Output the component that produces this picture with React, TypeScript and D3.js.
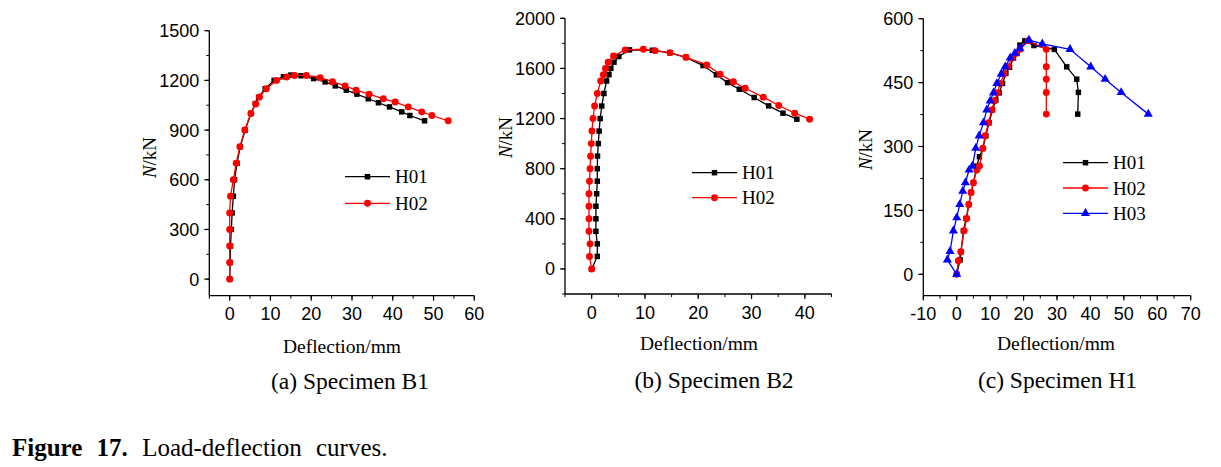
import React from "react";
import * as d3 from "d3";

// ---------- DATA ----------
const b1H01: [number, number][] = [
  [0, 0], [0.1, 100], [0.2, 200], [0.4, 300], [0.6, 400], [0.9, 500], [1.2, 600], [1.8, 700],
  [2.6, 800], [3.8, 900], [5.2, 1000], [6.3, 1060], [7.1, 1097], [8.7, 1150], [10.9, 1200],
  [13.2, 1222], [15, 1232], [17.5, 1228], [20.6, 1211], [23.4, 1191], [25.9, 1167], [28.6, 1141],
  [31.2, 1117], [34, 1089], [36.5, 1065], [39.2, 1040], [42.2, 1010], [44.2, 988], [47.8, 956],
];
const b1H02: [number, number][] = [
  [0, 0], [0, 100], [0, 200], [0, 300], [0, 400], [0.2, 500], [0.9, 600], [1.6, 700], [2.5, 800],
  [3.7, 900], [5.2, 1000], [6.4, 1058], [7.3, 1100], [9.0, 1150], [11.5, 1200], [14.0, 1220],
  [15.9, 1230], [18.8, 1230], [22.2, 1216], [25.2, 1192], [28.3, 1167], [31, 1141], [34.2, 1117],
  [37.7, 1089], [40.6, 1069], [43.8, 1040], [47.1, 1010], [49.6, 988], [53.6, 956],
];
const b2H01: [number, number][] = [
  [0, 0], [1.06, 100], [1.06, 200], [0.8, 300], [0.8, 400], [0.8, 500], [0.94, 600], [1.06, 700],
  [1.06, 800], [1.1, 900], [1.25, 1000], [1.4, 1100], [1.6, 1200], [1.9, 1300], [2.3, 1400],
  [2.8, 1500], [3.25, 1550], [3.6, 1600], [4.2, 1650], [5.1, 1695], [7.1, 1748], [11.4, 1745],
  [14.7, 1725], [17.7, 1688], [20.9, 1623], [23.4, 1549], [25.5, 1487], [27.7, 1434], [30.5, 1368],
  [33.2, 1301], [35.9, 1243], [38.5, 1195],
];
const b2H02: [number, number][] = [
  [0, 0], [-0.4, 100], [-0.3, 200], [-0.5, 300], [-0.5, 400], [-0.5, 500], [-0.5, 600], [-0.4, 700],
  [-0.3, 800], [-0.2, 900], [-0.06, 1000], [0.06, 1100], [0.25, 1200], [0.56, 1300], [1.06, 1400],
  [1.7, 1500], [2.2, 1550], [2.6, 1600], [3.1, 1650], [4.1, 1700], [6.3, 1748], [9.7, 1753],
  [11.9, 1742], [14.7, 1726], [17.7, 1689], [21.6, 1628], [24.1, 1554], [26.6, 1493], [28.8, 1442],
  [32.2, 1371], [35.1, 1304], [38.1, 1243], [40.9, 1195],
];
const h1H01: [number, number][] = [
  [0, 0], [1, 34], [1.3, 53], [2, 102], [2.8, 131], [3.6, 164], [4.3, 192], [5, 215], [6, 254],
  [6.8, 276], [7.8, 295], [8.7, 325], [9.7, 356], [10.7, 386], [11.7, 409], [12.7, 426], [13.7, 448],
  [14.7, 472], [15.8, 486], [17, 508], [18, 519], [18.9, 538], [20.4, 548], [23.1, 537], [29.2, 528],
  [32.9, 487], [35.9, 458], [36.4, 427], [36.2, 376],
];
const h1H02: [number, number][] = [
  [0, 0], [0.5, 32], [1.2, 53], [2.2, 102], [3, 131], [3.6, 164], [4.3, 192], [5, 215], [6, 245],
  [6.8, 254], [7.8, 296], [8.5, 325], [9.5, 356], [10.5, 386], [11.3, 407], [12.2, 426], [13, 448],
  [14.2, 470], [15.3, 487], [16.5, 507], [17.9, 519], [18.9, 528], [21.4, 548], [26.8, 528],
  [26.8, 487], [26.8, 458], [26.8, 427], [26.8, 376],
];
const h1H03: [number, number][] = [
  [0, 0], [-2.8, 34], [-2, 54], [-1, 102], [0, 133], [0.9, 164], [1.8, 195], [2.6, 215], [3.7, 245],
  [4.7, 254], [5.7, 296], [6.7, 325], [8, 356], [9, 386], [10, 407], [11, 426], [12, 448],
  [13.3, 470], [14.5, 487], [16, 508], [17.4, 519], [18.9, 530], [21.6, 550], [25.6, 541],
  [33.9, 528], [40.1, 487], [44.4, 458], [49.2, 427], [57.3, 376],
];

const xTicksA = [0, 10, 20, 30, 40, 50, 60];
const yTicksA = [0, 300, 600, 900, 1200, 1500];
const xTicksB = [0, 10, 20, 30, 40];
const yTicksB = [0, 400, 800, 1200, 1600, 2000];
const xTicksC = [-10, 0, 10, 20, 30, 40, 50, 60, 70];
const yTicksC = [0, 150, 300, 450, 600];

const captions = ["(a) Specimen B1", "(b) Specimen B2", "(c) Specimen H1"];
const xTitle = "Deflection/mm";

type Series = { name: string; data: [number, number][]; color: string; symbol: d3.SymbolType; size: number };

const panels = [
  {
    xDomain: [-5, 60], yDomain: [-100, 1500], xTicks: xTicksA, yTicks: yTicksA, xMinor: 5, yMinor: 150,
    left: 209.3, right: 474.3, top: 30.7, bottom: 295.7,
    yLabel: [149, 157.5], xLabel: [342, 352.5], caption: [350, 389], legend: [345, 176.7, 26.6],
    series: [
      { name: "H01", data: b1H01, color: "#000000", symbol: d3.symbolSquare, size: 30 },
      { name: "H02", data: b1H02, color: "#ff0000", symbol: d3.symbolCircle, size: 38 },
    ] as Series[],
    captionText: captions[0],
  },
  {
    xDomain: [-5, 45], yDomain: [-200, 2000], xTicks: xTicksB, yTicks: yTicksB, xMinor: 5, yMinor: 200,
    left: 565, right: 831.5, top: 18.3, bottom: 294,
    yLabel: [505.5, 137.5], xLabel: [699, 350], caption: [714, 388], legend: [692, 172.7, 25],
    series: [
      { name: "H01", data: b2H01, color: "#000000", symbol: d3.symbolSquare, size: 30 },
      { name: "H02", data: b2H02, color: "#ff0000", symbol: d3.symbolCircle, size: 38 },
    ] as Series[],
    captionText: captions[1],
  },
  {
    xDomain: [-10, 70], yDomain: [-50, 600], xTicks: xTicksC, yTicks: yTicksC, xMinor: 5, yMinor: 75,
    left: 923.3, right: 1190.7, top: 18.7, bottom: 295.6,
    yLabel: [865.5, 149.5], xLabel: [1056, 350], caption: [1057.5, 388], legend: [1063, 162.7, 25.3],
    series: [
      { name: "H01", data: h1H01, color: "#000000", symbol: d3.symbolSquare, size: 30 },
      { name: "H02", data: h1H02, color: "#ff0000", symbol: d3.symbolCircle, size: 38 },
      { name: "H03", data: h1H03, color: "#0000ff", symbol: d3.symbolTriangle, size: 36 },
    ] as Series[],
    captionText: captions[2],
  },
];

const SANS = "'Liberation Sans', Arial, sans-serif";
const SERIF = "'Liberation Serif', 'Times New Roman', serif";

function Panel({ p }: { p: (typeof panels)[number] }) {
  const x = d3.scaleLinear().domain(p.xDomain).range([p.left, p.right]);
  const y = d3.scaleLinear().domain(p.yDomain).range([p.bottom, p.top]);
  const line = d3.line<[number, number]>().x((d) => x(d[0])).y((d) => y(d[1]));
  const xMinorTicks = d3.range(p.xDomain[0], p.xDomain[1] + 0.001, p.xMinor);
  const yMinorTicks = d3.range(Math.ceil(p.yDomain[0] / p.yMinor) * p.yMinor, p.yDomain[1] + 0.001, p.yMinor);
  const [lx, ly, lgap] = p.legend;
  return (
    <g>
      {/* axes */}
      <line x1={p.left} x2={p.left} y1={p.top} y2={p.bottom} stroke="#000" strokeWidth={1.3} />
      <line x1={p.left} x2={p.right} y1={p.bottom} y2={p.bottom} stroke="#000" strokeWidth={1.3} />
      {xMinorTicks.map((t, i) => (
        <line key={"xm" + i} x1={x(t)} x2={x(t)} y1={p.bottom} y2={p.bottom + 3} stroke="#000" strokeWidth={1} />
      ))}
      {p.xTicks.map((t) => (
        <g key={"xt" + t}>
          <line x1={x(t)} x2={x(t)} y1={p.bottom} y2={p.bottom + 5} stroke="#000" strokeWidth={1.2} />
          <text x={x(t)} y={p.bottom + 24.5} textAnchor="middle" fontFamily={SANS} fontSize={18}>{t}</text>
        </g>
      ))}
      {yMinorTicks.map((t, i) => (
        <line key={"ym" + i} x1={p.left - 3} x2={p.left} y1={y(t)} y2={y(t)} stroke="#000" strokeWidth={1} />
      ))}
      {p.yTicks.map((t) => (
        <g key={"yt" + t}>
          <line x1={p.left - 5} x2={p.left} y1={y(t)} y2={y(t)} stroke="#000" strokeWidth={1.2} />
          <text x={p.left - 10} y={y(t)} dy="0.36em" textAnchor="end" fontFamily={SANS} fontSize={18}>{t}</text>
        </g>
      ))}
      {/* series */}
      {p.series.map((s) => (
        <g key={s.name}>
          <path d={line(s.data) || ""} fill="none" stroke={s.color} strokeWidth={1.3} />
          {s.data.map((d, i) => (
            <path key={i} transform={`translate(${x(d[0])},${y(d[1])})`} d={d3.symbol(s.symbol, s.size)() || ""} fill={s.color} />
          ))}
        </g>
      ))}
      {/* legend */}
      {p.series.map((s, i) => (
        <g key={"lg" + s.name} transform={`translate(0,${ly + i * lgap})`}>
          <line x1={lx} x2={lx + 45} y1={0} y2={0} stroke={s.color} strokeWidth={1.3} />
          <path transform={`translate(${lx + 22.5},0)`} d={d3.symbol(s.symbol, s.size)() || ""} fill={s.color} />
          <text x={lx + 50} y={0} dy="0.35em" fontFamily={SERIF} fontSize={19}>{s.name}</text>
        </g>
      ))}
      {/* labels */}
      <text transform={`translate(${p.yLabel[0]},${p.yLabel[1]}) rotate(-90)`} textAnchor="middle" dy="0.35em" fontFamily={SERIF} fontSize={19}>
        <tspan fontStyle="italic">N</tspan>/kN
      </text>
      <text x={p.xLabel[0]} y={p.xLabel[1]} textAnchor="middle" fontFamily={SERIF} fontSize={19.5}>{xTitle}</text>
      <text x={p.caption[0]} y={p.caption[1]} textAnchor="middle" fontFamily={SERIF} fontSize={23.5}>{p.captionText}</text>
    </g>
  );
}

export default function App() {
  return (
    <svg width={1221} height={467} style={{ position: "absolute", left: 0, top: 0, background: "#fff" }}>
      <rect width={1221} height={467} fill="#fff" />
      {panels.map((p, i) => (
        <Panel key={i} p={p} />
      ))}
      <text x={12} y={456} fontFamily={SERIF} fontSize={25} wordSpacing={8}>
        <tspan fontWeight="bold">Figure 17.</tspan> Load-deflection curves.
      </text>
    </svg>
  );
}
